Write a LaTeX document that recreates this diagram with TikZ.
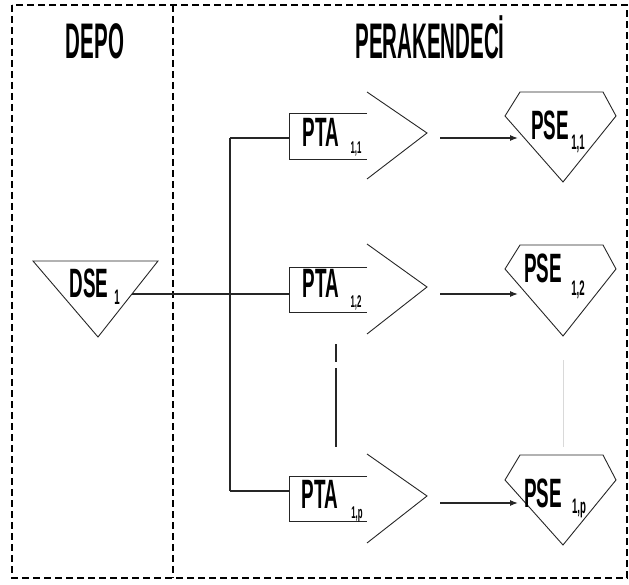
\documentclass[tikz,border=0pt]{standalone}
\usepackage{fontspec}
\usetikzlibrary{arrows.meta}
\newfontfamily\condfont[FakeStretch=0.46]{Liberation Sans Bold}
\newfontfamily\titlefont[FakeStretch=0.41]{Liberation Sans Bold}
\tikzset{
  border/.style={line width=1.3pt, dash pattern=on 7pt off 4pt},
  shapeline/.style={line width=0.9pt, draw=black!85},
  wire/.style={line width=1.2pt, draw=black!85},
  flow/.style={line width=1.2pt, draw=black!85, -{Latex[length=8pt,width=6pt]}},
  lbl/.style={inner sep=0pt, anchor=base, font=\condfont\fontsize{41}{44}\selectfont},
  sublbl/.style={inner sep=0pt, anchor=base, font=\condfont\fontsize{17}{19}\selectfont},
  psesub/.style={inner sep=0pt, anchor=base, font=\condfont\fontsize{21}{23}\selectfont},
  ttl/.style={inner sep=0pt, anchor=base, font=\titlefont\fontsize{50}{54}\selectfont},
}
\begin{document}
\begin{tikzpicture}[x=1pt,y=-1pt]
\useasboundingbox (0,0) rectangle (629,585);
% borders
\draw[border] (12,5) rectangle (627,578);
\draw[border] (173,5) -- (173,578);
% titles
\node[ttl] (tdepo) at (95,59) {DEPO};
\node[ttl] (tper) at (430,59) {PERAKENDECİ};
% DSE triangle
\draw[shapeline] (33,261) coordinate (dA) -- (158,261) coordinate (dB) -- (98,337) coordinate (dC) -- cycle;
\coordinate (dseout) at (132,294);
\node[lbl] (dse) at (89,298) {DSE};
\node[psesub] (dsesub) at (117,305) {1};
% rows: boxtop, boxbot, chevtop, tip, chevbot, arrowy, busy, psetop, pseside, psebot, name
\foreach \bt/\bb/\ct/\tp/\cb/\ay/\by/\pt/\ps/\pb/\r in {113/159/92/133/179/138/138/92/116/182/1, 267/312/244/287/334/294/294/245/269/336/2, 476/521/454/496/543/503/491/455/480/545/3}{
  % PTA box (open on the right)
  \draw[shapeline] (367,\bt) -- (289,\bt) -- (289,\bb) -- (367,\bb);
  \coordinate (ptaL\r) at (289,\by);
  % chevron
  \draw[shapeline] (367,\ct) -- (427,\tp) -- (367,\cb);
  \coordinate (chev\r) at (440,\ay);
  % PSE gem
  \draw[shapeline] (520,\pt) -- (603,\pt) -- (616,\ps) -- (563,\pb) -- (505,\ps) -- cycle;
  \coordinate (pseIn\r) at (518,\ay);
  \draw[flow] (chev\r) -- (pseIn\r);
}
% bus
\coordinate (busT) at (230,138);
\coordinate (busM) at (230,294);
\coordinate (busB) at (230,491);
\draw[wire] (busT) -- (busB);
\draw[wire] (busT) -- (ptaL1);
\draw[wire] (dseout) -- (ptaL2);
\draw[wire] (busB) -- (ptaL3);
% ellipsis lines
\coordinate (e1) at (336,344);
\coordinate (e2) at (336,362);
\coordinate (e3) at (336,368);
\coordinate (e4) at (336,447);
\draw[wire] (e1) -- (e2);
\draw[wire] (e3) -- (e4);
\coordinate (f1) at (563,360);
\coordinate (f2) at (563,447);
\draw[line width=0.8pt, black!15] (f1) -- (f2);
% labels
\node[lbl] (pta1) at (321,147) {PTA};
\node[sublbl] (pta1s) at (356,154) {1,1};
\node[lbl] (pta2) at (321,298) {PTA};
\node[sublbl] (pta2s) at (356,308) {1,2};
\node[lbl] (pta3) at (320,508) {PTA};
\node[sublbl] (pta3s) at (357,518) {1,p};
\node[lbl] (pse1) at (550,140) {PSE};
\node[psesub] (pse1s) at (578,150) {1,1};
\node[lbl] (pse2) at (543,283) {PSE};
\node[psesub] (pse2s) at (578,295) {1,2};
\node[lbl] (pse3) at (543,507) {PSE};
\node[psesub] (pse3s) at (579,513) {1,p};
\end{tikzpicture}
\end{document}
